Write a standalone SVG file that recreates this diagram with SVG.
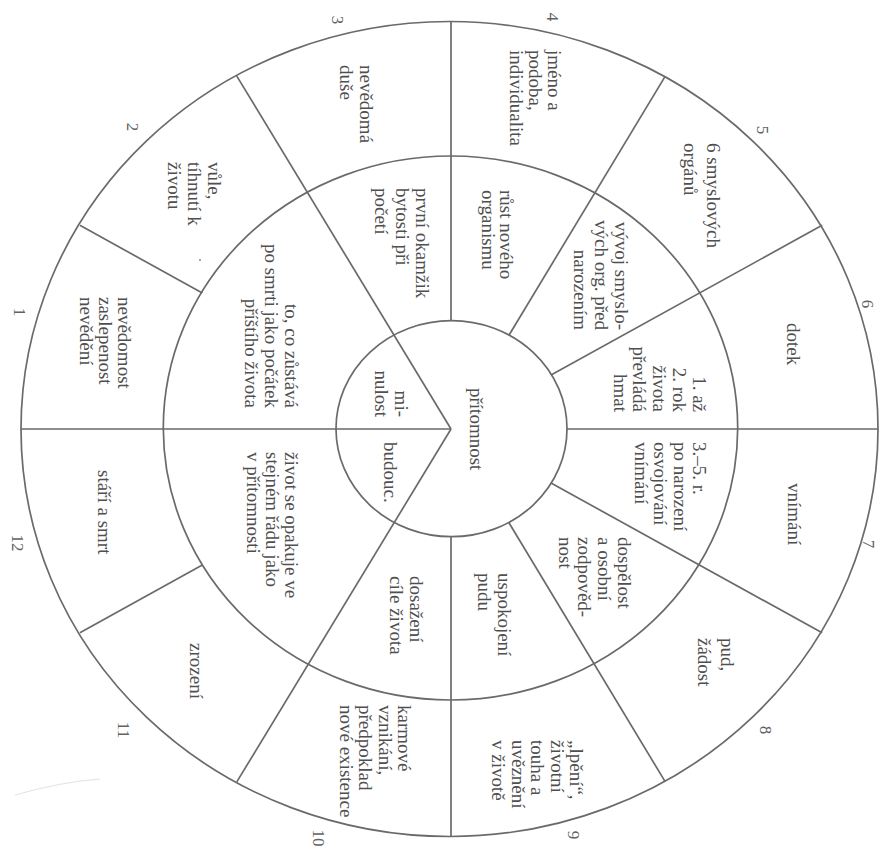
<svg xmlns="http://www.w3.org/2000/svg" width="879" height="848" viewBox="0 0 879 848">
<style>
.ring{fill:none;stroke:#6a6a6a;stroke-width:1.7}
.div{fill:none;stroke:#6a6a6a;stroke-width:1.7}
.t{font-family:"Liberation Serif","Times New Roman",serif;font-size:19px;fill:#4f4f4f}
.n{font-family:"Liberation Serif","Times New Roman",serif;font-size:17px;fill:#626262;text-anchor:middle}
.e{text-anchor:end}
</style>
<rect width="879" height="848" fill="#ffffff"/>
<g id="rings">
<ellipse class="ring" cx="449.5" cy="429" rx="428.5" ry="407.5"/>
<ellipse class="ring" cx="450.5" cy="428" rx="287.2" ry="272"/>
<ellipse class="ring" cx="451.5" cy="428.7" rx="115.5" ry="108"/>
</g>
<g id="connectors">
<path class="div" d="M566.5,429 L878,429"/>
<path class="div" d="M551,483 L822.1,632.8"/>
<path class="div" d="M508.8,522.5 L665.3,781.9"/>
<path class="div" d="M451,537 L451,836.5"/>
<path class="div" d="M451,429 L236.8,781.9"/>
<path class="div" d="M202.3,565 L79.9,632.8"/>
<path class="div" d="M451,429 L21,429"/>
<path class="div" d="M202.3,293 L79.9,225.3"/>
<path class="div" d="M451,429 L236.8,76.1"/>
<path class="div" d="M451,321 L451,21.5"/>
<path class="div" d="M508.8,335.5 L665.3,76.1"/>
<path class="div" d="M551,375 L822.1,225.3"/>
</g>
<g id="outer-1"><text class="t" transform="translate(118,297) rotate(90)"><tspan x="0" y="0">nevědomost</tspan><tspan x="0" dy="19">zaslepenost</tspan><tspan x="0" dy="19">nevědění</tspan></text></g>
<g id="outer-2"><text class="t" transform="translate(208,162) rotate(90)"><tspan x="0" y="0">vůle,</tspan><tspan x="0" dy="20">tíhnutí k</tspan><tspan x="0" dy="20">životu</tspan></text></g>
<g id="outer-3"><text class="t" transform="translate(360,65) rotate(90)"><tspan x="0" y="0">nevědomá</tspan><tspan x="0" dy="20">duše</tspan></text></g>
<g id="outer-4"><text class="t" transform="translate(548,50) rotate(90)"><tspan x="0" y="0">jméno a</tspan><tspan x="0" dy="19">podoba,</tspan><tspan x="0" dy="19">individualita</tspan></text></g>
<g id="outer-5"><text class="t" transform="translate(707,143) rotate(90)"><tspan x="0" y="0">6 smyslových</tspan><tspan x="0" dy="23.5">orgánů</tspan></text></g>
<g id="outer-6"><text class="t" transform="translate(787,323) rotate(90)">dotek</text></g>
<g id="outer-7"><text class="t" transform="translate(788,483) rotate(90)">vnímání</text></g>
<g id="outer-8"><text class="t" transform="translate(721,638) rotate(90)"><tspan x="0" y="0">pud,</tspan><tspan x="0" dy="23">žádost</tspan></text></g>
<g id="outer-9"><text class="t" transform="translate(570,740) rotate(90)"><tspan x="0" y="0">„lpění“,</tspan><tspan x="0" dy="19.5">životní</tspan><tspan x="0" dy="19.5">touha a</tspan><tspan x="0" dy="19.5">uvěznění</tspan><tspan x="0" dy="19.5">v životě</tspan></text></g>
<g id="outer-10"><text class="t" transform="translate(398,705) rotate(90)"><tspan x="0" y="0">karmové</tspan><tspan x="0" dy="19.3">vznikání,</tspan><tspan x="0" dy="19.3">předpoklad</tspan><tspan x="0" dy="19.3">nové existence</tspan></text></g>
<g id="outer-11"><text class="t" transform="translate(190,643) rotate(90)">zrození</text></g>
<g id="outer-12"><text class="t" transform="translate(98,470) rotate(90)">stáří a smrt</text></g>
<g id="mid-1"><text class="t e" transform="translate(285,408) rotate(90)"><tspan x="0" y="0">to, co zůstává</tspan><tspan x="0" dy="20">po smrti jako počátek</tspan><tspan x="0" dy="20">příštího života</tspan></text></g>
<g id="mid-2"><text class="t" transform="translate(416,188) rotate(90)"><tspan x="0" y="0">první okamžik</tspan><tspan x="0" dy="20.5">bytosti při</tspan><tspan x="0" dy="20.5">početí</tspan></text></g>
<g id="mid-3"><text class="t" transform="translate(500,190) rotate(90)"><tspan x="0" y="0">růst nového</tspan><tspan x="0" dy="18.5">organismu</tspan></text></g>
<g id="mid-4"><text class="t e" transform="translate(615,330) rotate(90)"><tspan x="0" y="0">vývoj smyslo-</tspan><tspan x="0" dy="20">vých org. před</tspan><tspan x="0" dy="21">narozením</tspan></text></g>
<g id="mid-5"><text class="t e" transform="translate(693,412) rotate(90)"><tspan x="0" y="0">1. až</tspan><tspan x="0" dy="20">2. rok</tspan><tspan x="0" dy="20">života</tspan><tspan x="0" dy="20">převládá</tspan><tspan x="0" dy="19">hmat</tspan></text></g>
<g id="mid-6"><text class="t" transform="translate(693,442) rotate(90)"><tspan x="0" y="0">3.–5. r.</tspan><tspan x="0" dy="19.3">po narození</tspan><tspan x="0" dy="19.3">osvojování</tspan><tspan x="0" dy="19.3">vnímání</tspan></text></g>
<g id="mid-7"><text class="t" transform="translate(618,537) rotate(90)"><tspan x="0" y="0">dospělost</tspan><tspan x="0" dy="20">a osobní</tspan><tspan x="0" dy="20">zodpověd-</tspan><tspan x="0" dy="19">nost</tspan></text></g>
<g id="mid-8"><text class="t" transform="translate(498,573) rotate(90)"><tspan x="0" y="0">uspokojení</tspan><tspan x="0" dy="20">pudu</tspan></text></g>
<g id="mid-9"><text class="t" transform="translate(410,576) rotate(90)"><tspan x="0" y="0">dosažení</tspan><tspan x="0" dy="20">cíle života</tspan></text></g>
<g id="mid-10"><text class="t" transform="translate(285,452) rotate(90)"><tspan x="0" y="0">život se opakuje ve</tspan><tspan x="0" dy="19">stejném řádu jako</tspan><tspan x="0" dy="19">v přítomnosti</tspan></text></g>
<g id="inner-present"><text class="t" transform="translate(470,388) rotate(90)">přítomnost</text></g>
<g id="inner-past"><text class="t e" transform="translate(395,417) rotate(90)"><tspan x="0" y="0">mi-</tspan><tspan x="0" dy="20">nulost</tspan></text></g>
<g id="inner-future"><text class="t" transform="translate(384,442) rotate(90)">budouc.</text></g>
<g id="numbers">
<text class="n" transform="translate(14,312) rotate(90)">1</text>
<text class="n" transform="translate(127,127) rotate(90)">2</text>
<text class="n" transform="translate(332,20) rotate(90)">3</text>
<text class="n" transform="translate(547,17) rotate(90)">4</text>
<text class="n" transform="translate(757,130) rotate(90)">5</text>
<text class="n" transform="translate(862,304) rotate(90)">6</text>
<text class="n" transform="translate(863,544) rotate(90)">7</text>
<text class="n" transform="translate(760,730) rotate(90)">8</text>
<text class="n" transform="translate(568,835) rotate(90)">9</text>
<text class="n" transform="translate(313,838) rotate(90)">10</text>
<text class="n" transform="translate(118,730) rotate(90)">11</text>
<text class="n" transform="translate(12,543) rotate(90)">12</text>
</g>
<g id="scan-marks">
<path d="M15,795 Q60,782 100,779" fill="none" stroke="#e2e2e2" stroke-width="1"/>
<circle cx="200" cy="260" r="1" fill="#8a80b8"/>
</g>
</svg>
